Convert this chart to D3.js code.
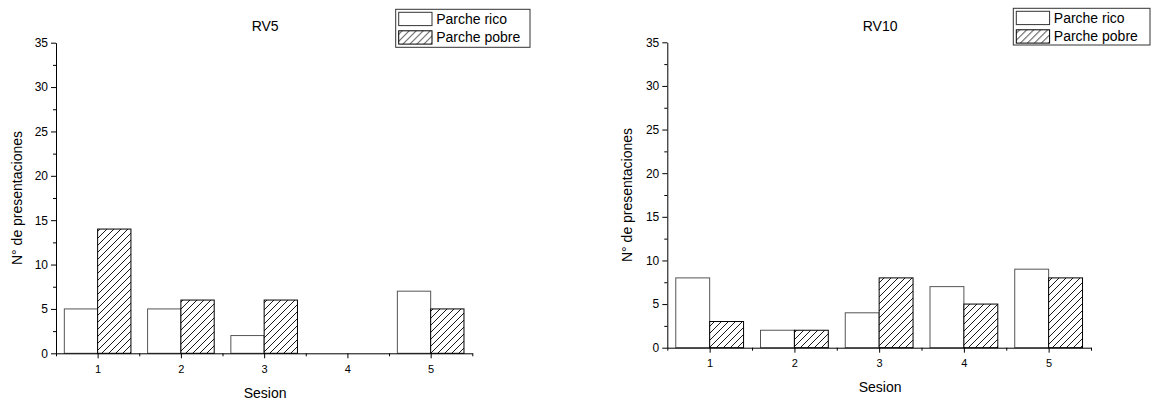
<!DOCTYPE html>
<html>
<head>
<meta charset="utf-8">
<script src="https://cdn.jsdelivr.net/npm/d3@7"></script>
<style>
  body { margin: 0; background: #fff; }
  svg { font-family: "Liberation Sans", Arial, sans-serif; }
  .axis path, .axis line { stroke: #000; }
</style>
</head>
<body>
<div id="chart"></div>
<script>
// data
const sessions = [1, 2, 3, 4, 5];
const yTicks = [0, 5, 10, 15, 20, 25, 30, 35];
const seriesNames = ["Parche rico", "Parche pobre"];

const rv5Rico = [5, 5, 2, 0, 7];
const rv5Pobre = [14, 6, 6, 0, 5];
const rv10Rico = [8, 2, 4, 7, 9];
const rv10Pobre = [3, 2, 8, 5, 8];

const W = 1154, H = 403;

const svg = d3.select("#chart")
  .append("svg")
  .attr("width", W)
  .attr("height", H);

// hatch pattern for "Parche pobre"
const defs = svg.append("defs");
defs.append("pattern")
  .attr("id", "hatch")
  .attr("patternUnits", "userSpaceOnUse")
  .attr("width", 7)
  .attr("height", 7)
  .call(function (p) {
    p.append("rect").attr("width", 7).attr("height", 7).attr("fill", "#fff");
    p.append("path")
      .attr("d", "M-1,1L1,-1M0,7L7,0M6,8L8,6")
      .attr("stroke", "#000")
      .attr("stroke-width", 0.9);
  });

// panel layout
const panels = [
  { title: "RV5", rico: rv5Rico, pobre: rv5Pobre,
    x0: 56, x1: 472.3, y0: 353.3, y1: 42.7,
    ylabX: 22, xlabY: 398, titleY: 31,
    leg: { x: 395.7, y: 9.3, w: 134.3, h: 38 } },
  { title: "RV10", rico: rv10Rico, pobre: rv10Pobre,
    x0: 667.3, x1: 1091, y0: 347.7, y1: 42.3,
    ylabX: 632, xlabY: 392, titleY: 31,
    leg: { x: 1013.3, y: 8.3, w: 136.7, h: 36.7 } }
];

panels.forEach(drawPanel);

function drawPanel(p) {
  const x = d3.scaleLinear().domain([0.5, 5.5]).range([p.x0, p.x1]);
  const y = d3.scaleLinear().domain([0, 35]).range([p.y0, p.y1]);
  const g = svg.append("g");
  const bw = x(1.4) - x(1);

  // bars
  g.selectAll(".rico")
    .data(sessions)
    .enter()
    .append("rect")
    .attr("class", "rico")
    .attr("x", function (d) { return x(d - 0.4); })
    .attr("width", bw)
    .attr("y", function (d, i) { return y(p.rico[i]); })
    .attr("height", function (d, i) { return y(0) - y(p.rico[i]); })
    .attr("fill", "#fff")
    .attr("stroke", "#555")
    .attr("stroke-width", 1);

  g.selectAll(".pobre")
    .data(sessions)
    .enter()
    .append("rect")
    .attr("class", "pobre")
    .attr("x", function (d) { return x(d); })
    .attr("width", bw)
    .attr("y", function (d, i) { return y(p.pobre[i]); })
    .attr("height", function (d, i) { return y(0) - y(p.pobre[i]); })
    .attr("fill", "url(#hatch)")
    .attr("stroke", "#000")
    .attr("stroke-width", 1);

  // y axis
  const minorY = d3.range(2.5, 35, 5);
  g.append("g")
    .attr("class", "axis")
    .attr("transform", "translate(" + p.x0 + ",0)")
    .call(d3.axisLeft(y).tickValues(minorY).tickSize(3).tickFormat(""))
    .call(function (a) { a.select(".domain").remove(); });
  g.append("g")
    .attr("class", "axis")
    .attr("transform", "translate(" + p.x0 + ",0)")
    .call(d3.axisLeft(y).tickValues(yTicks).tickSize(5).tickSizeOuter(0).tickPadding(3))
    .call(function (a) {
      a.selectAll("text").attr("font-size", 12).attr("fill", "#000").attr("font-family", "Liberation Sans, Arial, sans-serif");
    });

  // x axis
  const minorX = d3.range(0.5, 6, 1);
  g.append("g")
    .attr("class", "axis")
    .attr("transform", "translate(0," + p.y0 + ")")
    .call(d3.axisBottom(x).tickValues(minorX).tickSize(3).tickFormat(""))
    .call(function (a) { a.select(".domain").remove(); });
  g.append("g")
    .attr("class", "axis")
    .attr("transform", "translate(0," + p.y0 + ")")
    .call(d3.axisBottom(x).tickValues(sessions).tickSize(5).tickSizeOuter(0).tickPadding(7).tickFormat(d3.format("d")))
    .call(function (a) {
      a.selectAll("text").attr("font-size", 11).attr("fill", "#000").attr("font-family", "Liberation Sans, Arial, sans-serif");
    });

  // labels
  g.append("text")
    .attr("x", (p.x0 + p.x1) / 2 + 1)
    .attr("y", p.titleY)
    .attr("text-anchor", "middle")
    .attr("font-size", 14)
    .text(p.title);

  g.append("text")
    .attr("x", (p.x0 + p.x1) / 2 + 1)
    .attr("y", p.xlabY)
    .attr("text-anchor", "middle")
    .attr("font-size", 14)
    .text("Sesion");

  g.append("text")
    .attr("transform", "translate(" + p.ylabX + "," + ((p.y0 + p.y1) / 2) + ") rotate(-90)")
    .attr("text-anchor", "middle")
    .attr("font-size", 14)
    .text("N° de presentaciones");

  // legend
  const lg = g.append("g").attr("transform", "translate(" + p.leg.x + "," + p.leg.y + ")");
  lg.append("rect")
    .attr("width", p.leg.w)
    .attr("height", p.leg.h)
    .attr("fill", "#fff")
    .attr("stroke", "#333");
  seriesNames.forEach(function (name, i) {
    lg.append("rect")
      .attr("x", 3)
      .attr("y", 3 + i * 18.5)
      .attr("width", 33.3)
      .attr("height", 13.3)
      .attr("fill", i === 0 ? "#fff" : "url(#hatch)")
      .attr("stroke", i === 0 ? "#333" : "#000");
    lg.append("text")
      .attr("x", 40.5)
      .attr("y", 15 + i * 17.5)
      .attr("font-size", 14)
      .text(name);
  });
}
</script>
</body>
</html>
